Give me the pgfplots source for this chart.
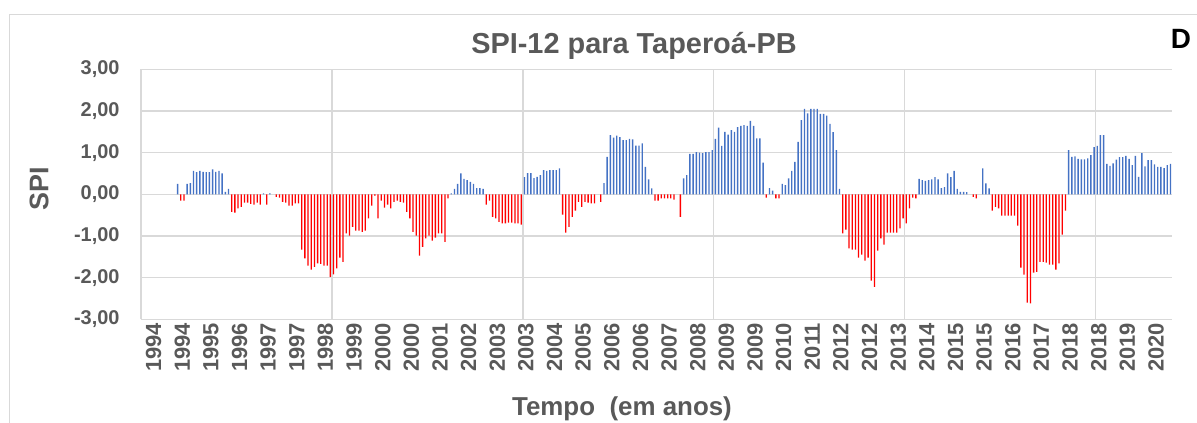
\documentclass[border=0pt]{standalone}
\usepackage{fontspec}
\setmainfont{Liberation Sans}
\usepackage{pgfplots}
\usepackage{pgfplotstable}
\pgfplotsset{compat=1.18}
\definecolor{txt}{HTML}{595959}
\definecolor{grd}{HTML}{D9D9D9}
\definecolor{bblue}{HTML}{4472C4}
\definecolor{rred}{HTML}{FF0000}
\pgfplotstableread{
i v
11 0.25
12 -0.15
13 -0.15
14 0.25
15 0.27
16 0.56
17 0.53
18 0.56
19 0.54
20 0.53
21 0.53
22 0.60
23 0.54
24 0.56
25 0.50
26 0.06
27 0.13
28 -0.42
29 -0.44
30 -0.34
31 -0.30
32 -0.20
33 -0.20
34 -0.23
35 -0.25
36 -0.20
37 -0.25
38 0.02
39 -0.25
40 0.02
41 0.00
42 -0.06
43 -0.08
44 -0.18
45 -0.20
46 -0.27
47 -0.27
48 -0.22
49 -0.22
50 -1.33
51 -1.54
52 -1.71
53 -1.81
54 -1.74
55 -1.66
56 -1.67
57 -1.71
58 -1.71
59 -1.98
60 -1.92
61 -1.78
62 -1.52
63 -1.62
64 -0.94
65 -0.99
66 -0.78
67 -0.87
68 -0.87
69 -0.90
70 -0.87
71 -0.58
72 -0.27
73 -0.03
74 -0.58
75 -0.15
76 -0.32
77 -0.25
78 -0.34
79 -0.18
80 -0.15
81 -0.18
82 -0.20
83 -0.42
84 -0.58
85 -0.90
86 -0.99
87 -1.47
88 -1.26
89 -1.06
90 -0.99
91 -1.11
92 -1.04
93 -0.94
94 -0.94
95 -1.14
96 -0.10
97 0.02
98 0.13
99 0.25
100 0.50
101 0.37
102 0.34
103 0.30
104 0.25
105 0.15
106 0.15
107 0.13
108 -0.25
109 -0.15
110 -0.54
111 -0.58
112 -0.66
113 -0.70
114 -0.70
115 -0.68
116 -0.68
117 -0.70
118 -0.70
119 -0.73
120 0.41
121 0.51
122 0.51
123 0.39
124 0.42
125 0.46
126 0.58
127 0.56
128 0.58
129 0.58
130 0.58
131 0.62
132 -0.49
133 -0.92
134 -0.78
135 -0.54
136 -0.39
137 -0.18
138 -0.30
139 -0.18
140 -0.20
141 -0.22
142 -0.22
143 0.00
144 -0.18
145 0.27
146 0.90
147 1.42
148 1.36
149 1.41
150 1.37
151 1.30
152 1.30
153 1.33
154 1.32
155 1.17
156 1.17
157 1.22
158 0.66
159 0.36
160 0.14
161 -0.15
162 -0.15
163 -0.10
164 -0.10
165 -0.10
166 -0.10
167 -0.13
168 0.00
169 -0.54
170 0.38
171 0.46
172 0.97
173 0.97
174 1.01
175 1.00
176 0.99
177 1.01
178 1.01
179 1.06
180 1.33
181 1.60
182 1.16
183 1.50
184 1.43
185 1.54
186 1.50
187 1.61
188 1.64
189 1.66
190 1.64
191 1.76
192 1.64
193 1.34
194 1.34
195 0.76
196 -0.08
197 0.15
198 0.09
199 -0.10
200 -0.10
201 0.25
202 0.22
203 0.38
204 0.56
205 0.78
206 1.26
207 1.78
208 2.05
209 1.94
210 2.05
211 2.05
212 2.05
213 1.93
214 1.93
215 1.89
216 1.69
217 1.49
218 1.06
219 0.13
220 -0.94
221 -0.85
222 -1.30
223 -1.33
224 -1.33
225 -1.52
226 -1.45
227 -1.59
228 -1.52
229 -2.07
230 -2.22
231 -1.35
232 -1.06
233 -1.21
234 -0.92
235 -0.92
236 -0.92
237 -0.92
238 -0.82
239 -0.58
240 -0.70
241 -0.34
242 -0.08
243 -0.10
244 0.37
245 0.34
246 0.32
247 0.34
248 0.36
249 0.41
250 0.36
251 0.15
252 0.17
253 0.50
254 0.41
255 0.56
256 0.13
257 0.06
258 0.06
259 0.05
260 0.00
261 -0.06
262 -0.10
263 0.00
264 0.62
265 0.26
266 0.14
267 -0.39
268 -0.30
269 -0.34
270 -0.51
271 -0.51
272 -0.51
273 -0.51
274 -0.51
275 -0.75
276 -1.76
277 -1.93
278 -2.60
279 -2.62
280 -1.88
281 -1.86
282 -1.62
283 -1.62
284 -1.64
285 -1.69
286 -1.69
287 -1.81
288 -1.66
289 -0.97
290 -0.39
291 1.06
292 0.90
293 0.91
294 0.85
295 0.84
296 0.84
297 0.86
298 0.94
299 1.13
300 1.16
301 1.42
302 1.42
303 0.73
304 0.68
305 0.74
306 0.83
307 0.89
308 0.89
309 0.92
310 0.85
311 0.70
312 0.92
313 0.42
314 0.99
315 0.67
316 0.82
317 0.82
318 0.72
319 0.66
320 0.66
321 0.63
322 0.70
323 0.73
}\spi
\begin{document}
\begin{tikzpicture}[x=1bp,y=1bp]
\useasboundingbox (0,0) rectangle (1197bp,423bp);
\draw[grd, line width=1bp] (9bp,0bp) -- (9bp,408bp) -- (1197bp,408bp);
\begin{axis}[
  at={(141bp,103.7bp)}, anchor=south west,
  scale only axis, width=1031bp, height=250bp,
  xmin=-0.5, xmax=323.5, ymin=-3, ymax=3,
  axis line style={draw=none},
  major tick length=0pt,
  tick style={draw=none},
  xtick={0,9,...,315},
  xticklabels={1994,1994,1995,1996,1997,1997,1998,1999,2000,2000,2001,2002,2003,2003,2004,2005,2006,2006,2007,2008,2009,2009,2010,2011,2012,2012,2013,2014,2015,2015,2016,2017,2018,2018,2019,2020},
  xticklabel style={rotate=90, anchor=east, yshift=-11bp, font=\fontsize{22}{22}\selectfont\bfseries, text=txt},
  ytick={-3,-2,-1,0,1,2,3},
  yticklabels={{-3,00},{-2,00},{-1,00},{0,00},{1,00},{2,00},{3,00}},
  yticklabel style={xshift=-18bp, font=\fontsize{20}{20}\selectfont\bfseries, text=txt},
  ymajorgrids,
  grid style={grd, line width=1.3bp},
  extra x ticks={-0.5,59.5,119.5,179.5,239.5,299.5},
  extra x tick labels={},
  extra x tick style={grid=major},
]
\addplot[ybar, bar width=1.4bp, bar shift=0pt, fill=bblue, draw=none, restrict y to domain=0.001:10] table[x=i,y=v]{\spi};
\addplot[ybar, bar width=1.3bp, bar shift=0pt, fill=rred, draw=none, restrict y to domain=-10:-0.001] table[x=i,y=v]{\spi};
\end{axis}
\node[font=\fontsize{29}{29}\selectfont\bfseries, text=txt] at (634bp,377bp) {SPI-12 para Taperoá-PB};
\node[font=\fontsize{28}{28}\selectfont\bfseries] at (1181bp,384bp) {D};
\node[font=\fontsize{26}{26}\selectfont\bfseries, text=txt] at (622bp,14bp) {Tempo~~(em anos)};
\node[rotate=90, font=\fontsize{27}{27}\selectfont\bfseries, text=txt] at (39bp,234bp) {SPI};
\end{tikzpicture}
\end{document}
